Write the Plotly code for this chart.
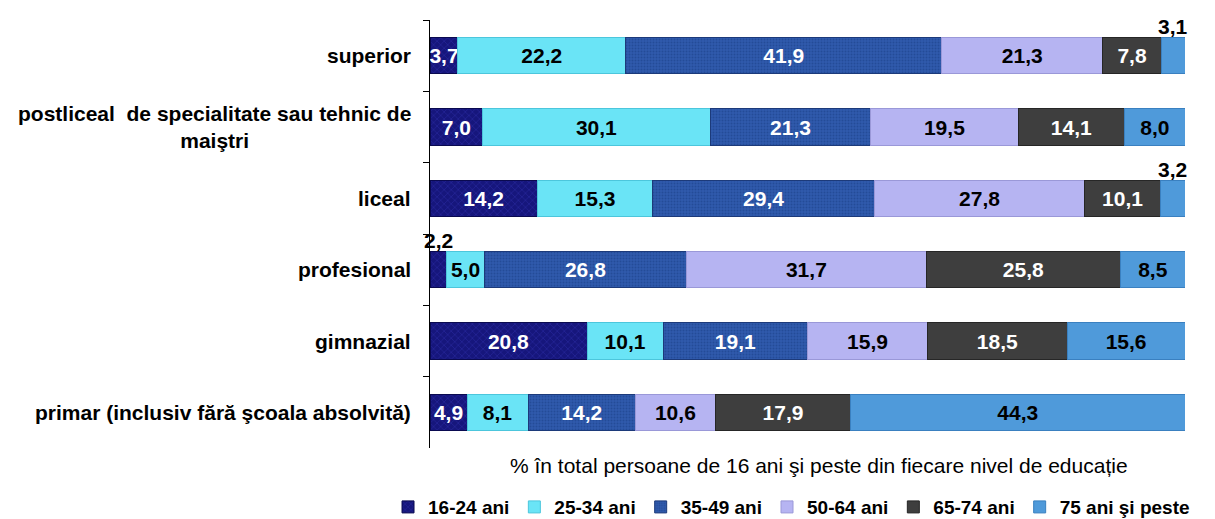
import plotly.graph_objects as go

categories = [
    "superior",
    "postliceal  de specialitate sau tehnic de<br>maiştri",
    "liceal",
    "profesional",
    "gimnazial",
    "primar (inclusiv fără şcoala absolvită)",
]
series_names = ["16-24 ani", "25-34 ani", "35-49 ani", "50-64 ani", "65-74 ani", "75 ani şi peste"]
v_16_24 = [3.7, 7.0, 14.2, 2.2, 20.8, 4.9]
v_25_34 = [22.2, 30.1, 15.3, 5.0, 10.1, 8.1]
v_35_49 = [41.9, 21.3, 29.4, 26.8, 19.1, 14.2]
v_50_64 = [21.3, 19.5, 27.8, 31.7, 15.9, 10.6]
v_65_74 = [7.8, 14.1, 10.1, 25.8, 18.5, 17.9]
v_75 = [3.1, 8.0, 3.2, 8.5, 15.6, 44.3]
axis_title = "% în total persoane de 16 ani şi peste din fiecare nivel de educație"

series_values = [v_16_24, v_25_34, v_35_49, v_50_64, v_65_74, v_75]
colors = ["#16167c", "#6ae4f6", "#2c55a6", "#b6b4f2", "#3e3e3e", "#4f9ada"]
line_colors = ["#0a0a50", "#4cc6dc", "#1c3a7a", "#9a98d8", "#262626", "#3a80c0"]
text_colors = ["white", "black", "white", "black", "white", "black"]
patterns = [
    dict(shape="x", fgcolor="#3535b5", bgcolor="#16167c", size=5, solidity=0.25),
    None,
    dict(shape=".", fgcolor="#1a3c84", bgcolor="#2f5aac", size=3, solidity=0.35),
    None, None, None,
]
SMALL = 3.5
FONT = "Liberation Sans, Arial, sans-serif"
FS = 21

fig = go.Figure()
annotations = []
cum = [0.0] * len(categories)
for name, vals, col, lc, tc, pat in zip(series_names, series_values, colors, line_colors, text_colors, patterns):
    texts = [("" if v < SMALL else f"{v:.1f}".replace(".", ",")) for v in vals]
    marker = dict(color=col, line=dict(color=lc, width=1))
    if pat:
        marker["pattern"] = pat
    fig.add_trace(go.Bar(
        y=categories, x=vals, name=name, orientation="h",
        marker=marker, text=texts, textposition="inside", textangle=0,
        insidetextanchor="middle", constraintext="none",
        textfont=dict(family=FONT, size=FS, color=tc, weight="bold"),
        hoverinfo="skip",
    ))
    for i, v in enumerate(vals):
        if v < SMALL:
            annotations.append(dict(
                x=cum[i] + v / 2, y=categories[i], xref="x", yref="y",
                text=f"<b>{v:.1f}</b>".replace(".", ","), showarrow=False,
                yshift=29, font=dict(family=FONT, size=FS, color="black"),
            ))
        cum[i] += v

for c in categories:
    annotations.append(dict(
        x=0, y=c, xref="paper", yref="y", xanchor="right", xshift=-17,
        text=f"<b>{c}</b>", showarrow=False, align="center",
        font=dict(family=FONT, size=FS, color="black"),
    ))

annotations.append(dict(
    x=0.5, y=0, xref="paper", yref="paper", xanchor="center", yanchor="middle",
    xshift=11, yshift=-17, text=axis_title, showarrow=False,
    font=dict(family=FONT, size=FS, color="black"),
))

fig.update_layout(
    width=1207, height=511,
    barmode="stack", bargap=0.49,
    margin=dict(l=422, r=30, t=12, b=71, autoexpand=False),
    paper_bgcolor="white", plot_bgcolor="white",
    font=dict(family=FONT, size=FS, color="black"),
    showlegend=True,
    legend=dict(orientation="h", x=-0.0556, xanchor="left", y=-0.138, yanchor="middle",
                font=dict(family=FONT, size=19, color="black", weight="bold"),
                itemwidth=30, traceorder="normal"),
    annotations=annotations,
    xaxis=dict(range=[0, 100], showgrid=False, zeroline=False, showline=False,
               showticklabels=False, ticks=""),
    yaxis=dict(categoryorder="array", categoryarray=categories, autorange="reversed",
               showline=True, linecolor="black", linewidth=1,
               ticks="outside", ticklen=6, tickcolor="black", tickson="boundaries",
               showticklabels=False, showgrid=False),
)
fig.write_html("out.html")
